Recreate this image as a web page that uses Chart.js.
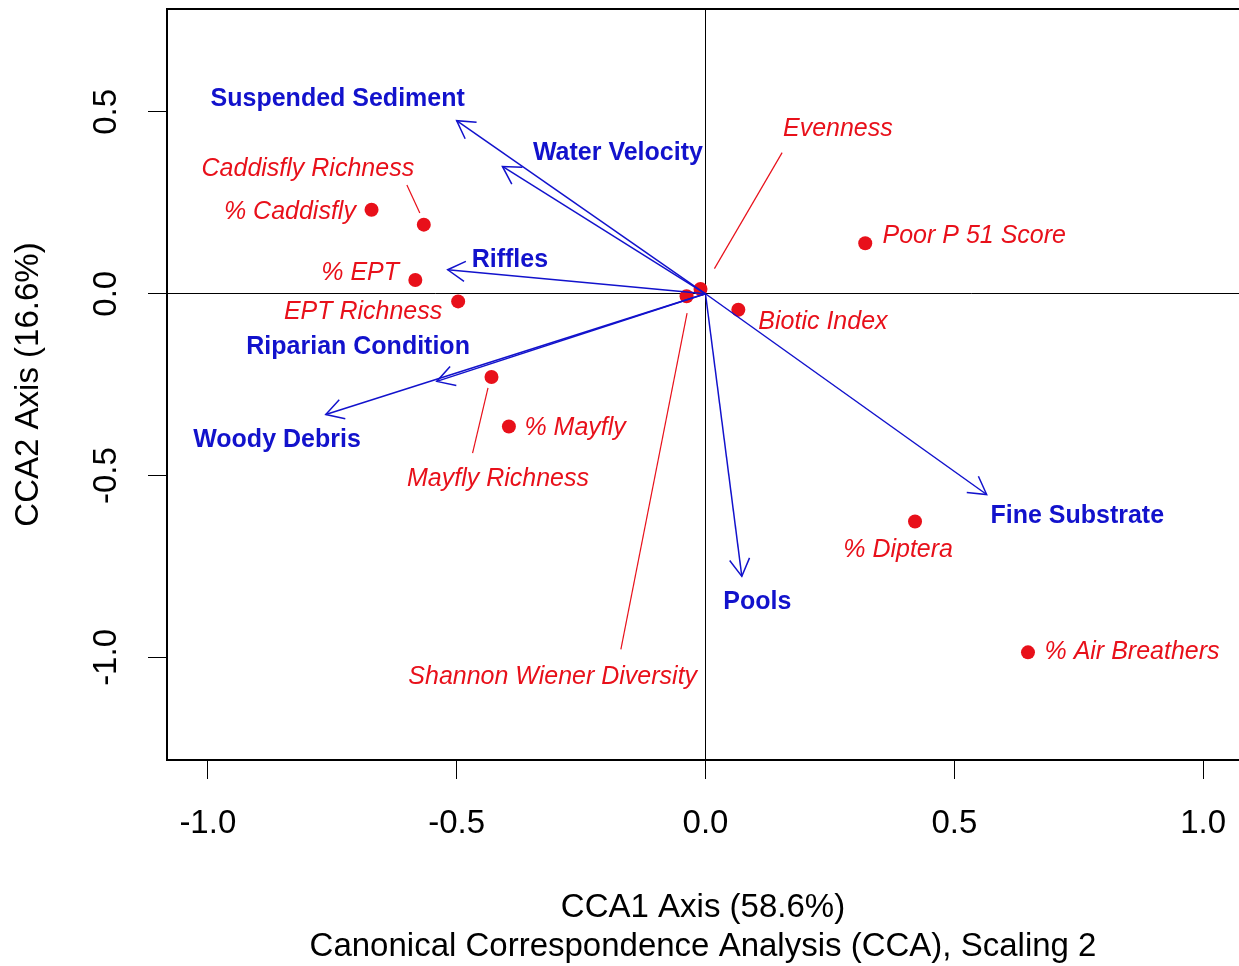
<!DOCTYPE html>
<html>
<head>
<meta charset="utf-8">
<script src="https://cdn.jsdelivr.net/npm/chart.js@4.4.0/dist/chart.umd.min.js"></script>
<style>
  html, body { margin: 0; padding: 0; background: #fff; }
  canvas { display: block; }
</style>
</head>
<body>
<canvas id="ccaChart" width="1239" height="966"></canvas>
<script>
// species scores (red points)
const speciesNames = ["% Caddisfly", "Caddisfly Richness", "% EPT", "EPT Richness", "Mayfly Richness", "% Mayfly",
  "Evenness", "Shannon Wiener Diversity", "Biotic Index", "Poor P 51 Score", "% Diptera", "% Air Breathers"];
const speciesCCA1 = [-0.671, -0.566, -0.583, -0.497, -0.430, -0.395, -0.010, -0.038, 0.066, 0.321, 0.421, 0.648];
const speciesCCA2 = [0.231, 0.190, 0.038, -0.021, -0.229, -0.365, 0.013, -0.007, -0.044, 0.139, -0.626, -0.986];

// environmental variables (blue arrows)
const envNames = ["Suspended Sediment", "Water Velocity", "Riffles", "Riparian Condition", "Woody Debris", "Pools", "Fine Substrate"];
const envCCA1 = [-0.500, -0.408, -0.518, -0.540, -0.763, 0.073, 0.565];
const envCCA2 = [0.476, 0.350, 0.066, -0.241, -0.332, -0.777, -0.552];

// tick labels
const xTicks = [-1.0, -0.5, 0.0, 0.5, 1.0];
const yTicks = [-1.0, -0.5, 0.0, 0.5];

// where the text sits (axis units), same order as the names
const speciesLabelPos = [[-0.835, 0.231], [-0.799, 0.349], [-0.694, 0.063], [-0.688, -0.044], [-0.417, -0.503],
  [-0.262, -0.363], [0.266, 0.459], [-0.307, -1.049], [0.236, -0.071], [0.540, 0.165], [0.387, -0.698], [0.857, -0.981]];
const envLabelPos = [[-0.739, 0.541], [-0.176, 0.393], [-0.393, 0.099], [-0.698, -0.140], [-0.861, -0.396],
  [0.104, -0.841], [0.747, -0.607]];

// leader lines from crowded points to their labels
const leaderLines = [
  [[-0.600, 0.299], [-0.574, 0.222]],
  [[0.018, 0.069], [0.154, 0.388]],
  [[-0.437, -0.259], [-0.468, -0.438]],
  [[-0.037, -0.053], [-0.170, -0.978]]
];

const RED = "#e8101a";
const BLUE = "#1212cc";
const FONT = '"Liberation Sans", Arial, sans-serif';

const arrowDatasets = envNames.map((name, i) => ({
  label: name,
  data: [{ x: 0, y: 0 }, { x: envCCA1[i], y: envCCA2[i] }],
  showLine: true,
  borderColor: BLUE,
  borderWidth: 1.5,
  pointRadius: 0
}));

const leaderDatasets = leaderLines.map((seg) => ({
  data: [{ x: seg[0][0], y: seg[0][1] }, { x: seg[1][0], y: seg[1][1] }],
  showLine: true,
  borderColor: RED,
  borderWidth: 1.2,
  pointRadius: 0
}));

const speciesDataset = {
  label: "species",
  data: speciesNames.map((n, i) => ({ x: speciesCCA1[i], y: speciesCCA2[i] })),
  backgroundColor: RED,
  borderColor: RED,
  pointRadius: 7,
  pointBorderWidth: 0
};

// arrow heads, frame top and the text labels
const biplotPlugin = {
  id: "biplot",
  afterDatasetsDraw(chart) {
    const ctx = chart.ctx;
    const xs = chart.scales.x;
    const ys = chart.scales.y;
    const area = chart.chartArea;

    ctx.save();
    ctx.strokeStyle = "#000";
    ctx.lineWidth = 2;
    ctx.beginPath();
    ctx.moveTo(area.left, area.top);
    ctx.lineTo(area.right + 2, area.top);
    ctx.stroke();

    // open arrow heads (R style, 30 degrees)
    ctx.strokeStyle = BLUE;
    ctx.lineWidth = 1.5;
    const x0 = xs.getPixelForValue(0);
    const y0 = ys.getPixelForValue(0);
    envNames.forEach((n, i) => {
      const tx = xs.getPixelForValue(envCCA1[i]);
      const ty = ys.getPixelForValue(envCCA2[i]);
      const ang = Math.atan2(y0 - ty, x0 - tx);
      const len = 20;
      ctx.beginPath();
      ctx.moveTo(tx + len * Math.cos(ang + Math.PI / 6), ty + len * Math.sin(ang + Math.PI / 6));
      ctx.lineTo(tx, ty);
      ctx.lineTo(tx + len * Math.cos(ang - Math.PI / 6), ty + len * Math.sin(ang - Math.PI / 6));
      ctx.stroke();
    });

    // text is centred on its spot; +2px puts the glyph middle there
    ctx.textAlign = "center";
    ctx.textBaseline = "middle";
    ctx.fillStyle = BLUE;
    ctx.font = "bold 25px " + FONT;
    envNames.forEach((n, i) => {
      ctx.fillText(n, xs.getPixelForValue(envLabelPos[i][0]), ys.getPixelForValue(envLabelPos[i][1]) + 2);
    });
    ctx.fillStyle = RED;
    ctx.font = "italic 25px " + FONT;
    speciesNames.forEach((n, i) => {
      ctx.fillText(n, xs.getPixelForValue(speciesLabelPos[i][0]), ys.getPixelForValue(speciesLabelPos[i][1]) + 2);
    });
    ctx.restore();
  }
};

const zeroLine = (c) => (c.tick && c.tick.value === 0 ? "#000" : "rgba(0,0,0,0)");

new Chart(document.getElementById("ccaChart"), {
  type: "scatter",
  data: { datasets: [...arrowDatasets, ...leaderDatasets, speciesDataset] },
  options: {
    responsive: false,
    animation: false,
    devicePixelRatio: 1,
    layout: { autoPadding: false, padding: { top: 9, right: 0, left: 0, bottom: 0 } },
    plugins: { legend: { display: false }, tooltip: { enabled: false } },
    scales: {
      x: {
        type: "linear",
        min: -1.082,
        max: 1.072,
        afterBuildTicks: (s) => { s.ticks = xTicks.map((v) => ({ value: v })); },
        afterFit: (s) => { s.height = 206; s.paddingLeft = 0; s.paddingRight = 0; },
        ticks: {
          color: "#000",
          font: { family: FONT, size: 33 },
          padding: 25,
          maxRotation: 0,
          callback: (v) => Number(v).toFixed(1)
        },
        grid: { color: zeroLine, lineWidth: 1, tickLength: 19, tickColor: "#000", tickWidth: 1 },
        border: { color: "#000", width: 2 },
        title: {
          display: true,
          text: ["CCA1 Axis (58.6%)", "Canonical Correspondence Analysis (CCA), Scaling 2"],
          color: "#000",
          font: { family: FONT, size: 33, lineHeight: 1.18 },
          padding: { top: 0, bottom: 0 }
        }
      },
      y: {
        type: "linear",
        min: -1.282,
        max: 0.783,
        afterBuildTicks: (s) => { s.ticks = yTicks.map((v) => ({ value: v })); },
        afterFit: (s) => { s.width = 167; s.paddingTop = 0; s.paddingBottom = 0; },
        ticks: {
          color: "#000",
          font: { family: FONT, size: 33 },
          padding: 13,
          minRotation: 90,
          maxRotation: 90,
          crossAlign: "center",
          callback: (v) => Number(v).toFixed(1)
        },
        grid: { color: zeroLine, lineWidth: 1, tickLength: 19, tickColor: "#000", tickWidth: 1 },
        border: { color: "#000", width: 2 },
        title: {
          display: true,
          text: "CCA2 Axis (16.6%)",
          color: "#000",
          font: { family: FONT, size: 33 },
          padding: { top: 9, bottom: 0 }
        }
      }
    }
  },
  plugins: [biplotPlugin]
});
</script>
</body>
</html>
